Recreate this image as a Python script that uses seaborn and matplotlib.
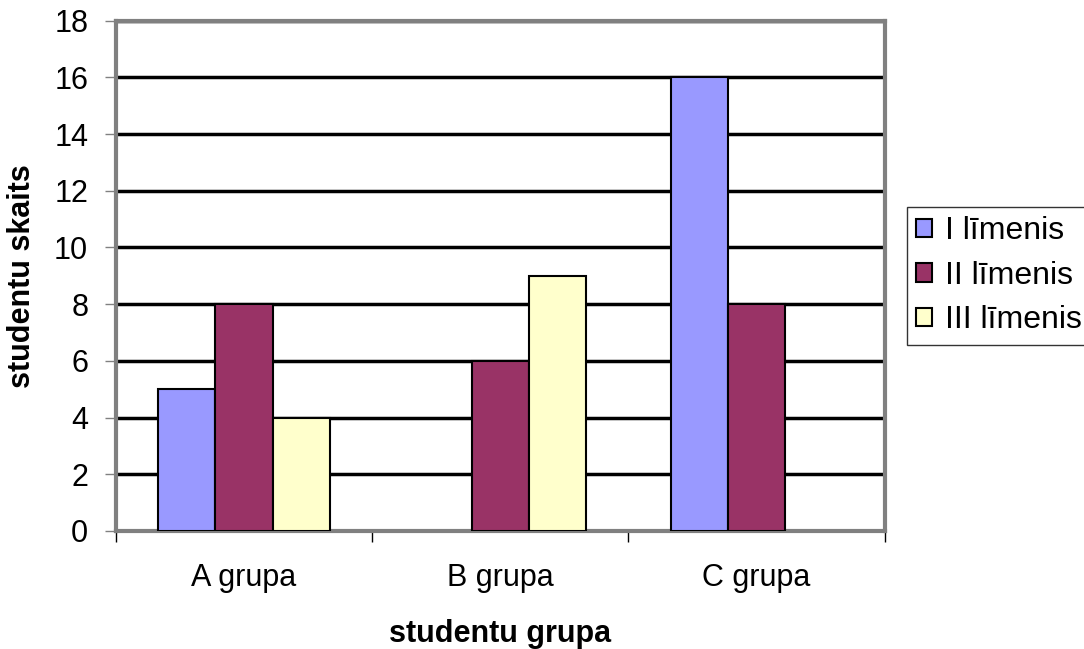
import matplotlib
matplotlib.use("Agg")
import matplotlib.pyplot as plt
import seaborn as sns
import pandas as pd
from matplotlib.ticker import FixedLocator, NullFormatter

groups = ["A grupa", "B grupa", "C grupa"]
levels = ["I līmenis", "II līmenis", "III līmenis"]
vals_I = [5, 0, 16]
vals_II = [8, 6, 8]
vals_III = [4, 9, 0]
colors = ["#9999FF", "#993366", "#FFFFCC"]

rows = []
for lvl, vals in zip(levels, [vals_I, vals_II, vals_III]):
    for g, v in zip(groups, vals):
        rows.append({"grupa": g, "limenis": lvl, "skaits": v})
df = pd.DataFrame(rows)

sns.set_theme(style="white")
plt.rcParams["font.family"] = ["Liberation Sans", "DejaVu Sans"]
plt.rcParams["text.color"] = "black"
plt.rcParams["axes.labelcolor"] = "black"
plt.rcParams["xtick.color"] = "black"
plt.rcParams["ytick.color"] = "black"

FS = 22

fig = plt.figure(figsize=(10.84, 6.49), dpi=100)
ax = fig.add_axes([0.107, 0.182, 0.709, 0.786])

sns.barplot(data=df, x="grupa", y="skaits", hue="limenis", order=groups,
            hue_order=levels, palette=colors, width=0.67, edgecolor="black",
            linewidth=1.5, saturation=1, ax=ax, zorder=3, legend=True)

for p in ax.patches:
    if p.get_height() == 0:
        p.set_linewidth(0)

ax.set_ylim(0, 18)
ax.set_xlim(-0.5, 2.5)
ax.set_yticks(range(0, 19, 2))
ax.yaxis.grid(True, color="black", linewidth=2.5, zorder=0)
ax.set_axisbelow(True)
for s in ax.spines.values():
    s.set_color("#808080")
    s.set_linewidth(3)

ax.tick_params(axis="y", which="major", direction="out", length=8, width=1,
               color="#808080", labelsize=FS, pad=12, left=True, labelcolor="black")
ax.tick_params(axis="x", which="major", length=0, labelsize=FS, pad=23, labelcolor="black")
ax.xaxis.set_minor_locator(FixedLocator([-0.5, 0.5, 1.5, 2.5]))
ax.xaxis.set_minor_formatter(NullFormatter())
ax.tick_params(axis="x", which="minor", direction="out", length=8, width=1,
               color="black", bottom=True)

ax.set_xlabel("studentu grupa", fontsize=FS, fontweight="bold", labelpad=19, color="black")
ax.set_ylabel("studentu skaits", fontsize=FS, fontweight="bold", labelpad=12, color="black")

leg = ax.legend(loc="center left", bbox_to_anchor=(1.029, 0.5), fontsize=23,
                frameon=True, fancybox=False, edgecolor="black",
                handlelength=0.5, handleheight=0.5, handletextpad=0.38,
                borderpad=0.3, labelspacing=0.45, borderaxespad=0)
leg.get_frame().set_linewidth(1)
for h in leg.legend_handles:
    h.set_edgecolor("black")
    h.set_linewidth(1.5)

fig.savefig("out.png", dpi=100, facecolor="white")
